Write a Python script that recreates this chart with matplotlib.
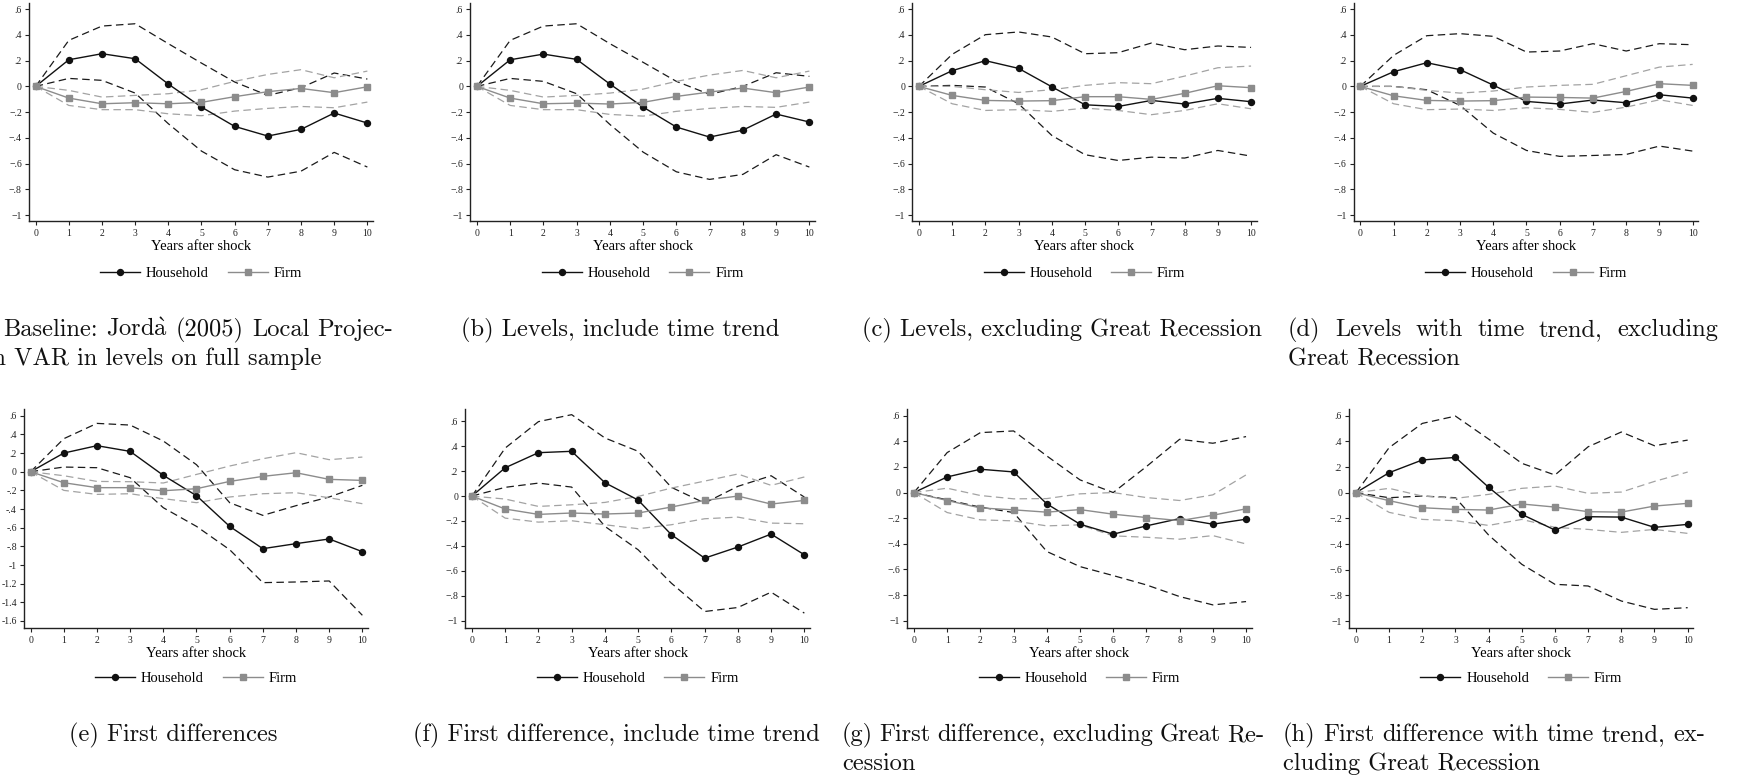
import matplotlib
matplotlib.use('Agg')
import matplotlib.pyplot as plt
from matplotlib.lines import Line2D
from matplotlib.transforms import IdentityTransform

plt.rcParams['mathtext.fontset'] = 'cm'

# ---------------- data ----------------
years = [0, 1, 2, 3, 4, 5, 6, 7, 8, 9, 10]
year_labels = ['0', '1', '2', '3', '4', '5', '6', '7', '8', '9', '10']
legend_labels = ['Household', 'Firm']
xlabel_text = 'Years after shock'

yticks_std = [0.6, 0.4, 0.2, 0.0, -0.2, -0.4, -0.6, -0.8, -1.0]
ylabels_std = ['.6', '.4', '.2', '0', '\u2212.2', '\u2212.4', '\u2212.6', '\u2212.8', '\u22121']
yticks_e = [0.6, 0.4, 0.2, 0.0, -0.2, -0.4, -0.6, -0.8, -1.0, -1.2, -1.4, -1.6]
ylabels_e = ['.6', '.4', '.2', '0', '-.2', '-.4', '-.6', '-.8', '-1', '-1.2', '-1.4', '-1.6']

# (a) Baseline
a_hh = [0, 0.207, 0.254, 0.215, 0.018, -0.161, -0.311, -0.386, -0.334, -0.207, -0.285]
a_hh_hi = [0, 0.358, 0.469, 0.487, 0.332, 0.181, 0.034, -0.070, -0.010, 0.104, 0.057]
a_hh_lo = [0, 0.062, 0.047, -0.052, -0.290, -0.503, -0.648, -0.705, -0.659, -0.513, -0.627]
a_firm = [0, -0.091, -0.135, -0.127, -0.135, -0.124, -0.080, -0.041, -0.016, -0.049, -0.003]
a_firm_hi = [0, -0.031, -0.083, -0.070, -0.057, -0.026, 0.039, 0.093, 0.130, 0.067, 0.119]
a_firm_lo = [0, -0.148, -0.181, -0.181, -0.213, -0.228, -0.192, -0.171, -0.156, -0.166, -0.122]

# (b) Levels, include time trend
b_hh = [0, 0.207, 0.251, 0.210, 0.018, -0.161, -0.316, -0.394, -0.340, -0.215, -0.277]
b_hh_hi = [0, 0.358, 0.469, 0.487, 0.332, 0.187, 0.039, -0.062, 0.000, 0.106, 0.078]
b_hh_lo = [0, 0.062, 0.039, -0.057, -0.296, -0.511, -0.664, -0.723, -0.684, -0.531, -0.627]
b_firm = [0, -0.091, -0.135, -0.130, -0.137, -0.124, -0.078, -0.044, -0.013, -0.049, -0.005]
b_firm_hi = [0, -0.031, -0.083, -0.070, -0.052, -0.021, 0.039, 0.088, 0.124, 0.067, 0.119]
b_firm_lo = [0, -0.148, -0.181, -0.181, -0.218, -0.231, -0.194, -0.171, -0.156, -0.163, -0.122]

# (c) Levels, excluding Great Recession
c_hh = [0, 0.122, 0.200, 0.140, -0.003, -0.143, -0.156, -0.109, -0.137, -0.093, -0.119]
c_hh_hi = [0, 0.249, 0.402, 0.423, 0.384, 0.254, 0.262, 0.337, 0.285, 0.314, 0.303]
c_hh_lo = [0, 0.008, -0.005, -0.135, -0.381, -0.531, -0.576, -0.550, -0.557, -0.498, -0.542]
c_firm = [0, -0.070, -0.109, -0.114, -0.111, -0.080, -0.080, -0.101, -0.054, 0.005, -0.010]
c_firm_hi = [0, 0.000, -0.026, -0.047, -0.026, 0.008, 0.029, 0.021, 0.080, 0.145, 0.158]
c_firm_lo = [0, -0.135, -0.187, -0.181, -0.194, -0.169, -0.187, -0.220, -0.187, -0.135, -0.174]

# (d) Levels with time trend, excluding Great Recession
d_hh = [0, 0.114, 0.184, 0.130, 0.010, -0.117, -0.137, -0.106, -0.127, -0.065, -0.091]
d_hh_hi = [0, 0.241, 0.394, 0.410, 0.389, 0.267, 0.275, 0.332, 0.275, 0.332, 0.324]
d_hh_lo = [0, 0.000, -0.026, -0.148, -0.363, -0.498, -0.544, -0.537, -0.529, -0.464, -0.503]
d_firm = [0, -0.073, -0.109, -0.114, -0.111, -0.083, -0.086, -0.091, -0.039, 0.021, 0.008]
d_firm_hi = [0, 0.000, -0.031, -0.052, -0.036, -0.005, 0.008, 0.016, 0.083, 0.150, 0.171]
d_firm_lo = [0, -0.135, -0.181, -0.176, -0.187, -0.166, -0.179, -0.202, -0.161, -0.104, -0.148]

# (e) First differences
e_hh = [0, 0.200, 0.279, 0.218, -0.039, -0.257, -0.586, -0.825, -0.771, -0.721, -0.857]
e_hh_hi = [0, 0.354, 0.518, 0.500, 0.329, 0.075, -0.332, -0.468, -0.364, -0.271, -0.146]
e_hh_lo = [0, 0.050, 0.043, -0.064, -0.386, -0.586, -0.836, -1.189, -1.182, -1.171, -1.539]
e_firm = [0, -0.118, -0.171, -0.171, -0.204, -0.182, -0.104, -0.050, -0.011, -0.082, -0.093]
e_firm_hi = [0, -0.043, -0.104, -0.107, -0.121, -0.029, 0.061, 0.139, 0.204, 0.129, 0.157]
e_firm_lo = [0, -0.200, -0.243, -0.236, -0.289, -0.332, -0.271, -0.236, -0.225, -0.279, -0.343]

# (f) First difference, include time trend
f_hh = [0, 0.227, 0.348, 0.359, 0.107, -0.032, -0.310, -0.498, -0.409, -0.305, -0.471]
f_hh_hi = [0, 0.385, 0.597, 0.653, 0.466, 0.359, 0.070, -0.056, 0.078, 0.163, -0.008]
f_hh_lo = [0, 0.070, 0.104, 0.072, -0.243, -0.431, -0.699, -0.926, -0.894, -0.771, -0.939]
f_firm = [0, -0.104, -0.147, -0.136, -0.144, -0.136, -0.088, -0.035, 0.000, -0.064, -0.035]
f_firm_hi = [0, -0.024, -0.083, -0.070, -0.051, -0.003, 0.064, 0.120, 0.177, 0.086, 0.153]
f_firm_lo = [0, -0.177, -0.209, -0.198, -0.230, -0.262, -0.230, -0.182, -0.169, -0.217, -0.222]

# (g) First difference, excluding Great Recession
g_hh = [0, 0.122, 0.182, 0.161, -0.088, -0.247, -0.325, -0.260, -0.203, -0.247, -0.208]
g_hh_hi = [0, 0.312, 0.468, 0.481, 0.286, 0.099, 0.000, 0.203, 0.416, 0.385, 0.437]
g_hh_lo = [0, -0.057, -0.114, -0.156, -0.460, -0.578, -0.648, -0.721, -0.812, -0.877, -0.851]
g_firm = [0, -0.062, -0.120, -0.135, -0.153, -0.133, -0.169, -0.195, -0.219, -0.177, -0.127]
g_firm_hi = [0, 0.034, -0.023, -0.049, -0.047, -0.010, 0.000, -0.039, -0.062, -0.018, 0.138]
g_firm_lo = [0, -0.156, -0.213, -0.221, -0.260, -0.252, -0.338, -0.349, -0.364, -0.336, -0.401]

# (h) First difference with time trend, excluding Great Recession
h_hh = [0, 0.156, 0.255, 0.275, 0.042, -0.169, -0.291, -0.187, -0.190, -0.270, -0.247]
h_hh_hi = [0, 0.351, 0.540, 0.597, 0.418, 0.229, 0.138, 0.358, 0.473, 0.366, 0.410]
h_hh_lo = [0, -0.039, -0.026, -0.039, -0.330, -0.558, -0.714, -0.727, -0.844, -0.909, -0.896]
h_firm = [0, -0.062, -0.117, -0.130, -0.135, -0.088, -0.112, -0.148, -0.151, -0.104, -0.083]
h_firm_hi = [0, 0.034, -0.026, -0.044, -0.013, 0.034, 0.052, -0.005, 0.005, 0.088, 0.161]
h_firm_lo = [0, -0.153, -0.208, -0.218, -0.255, -0.208, -0.270, -0.286, -0.309, -0.286, -0.317]

# ---------------- layout ----------------
W, H = 1743, 781
fig = plt.figure(figsize=(W / 100, H / 100), dpi=100)

TICKFONT = 'Liberation Serif'
CAPFONT = ['cmr10', 'DejaVu Serif']
CAPSIZE = 17.6

HH_COL = '#111111'
FIRM_COL = '#8c8c8c'
HH_CI = '#1a1a1a'
FIRM_CI = '#a3a3a3'
DASH = (0, (6, 3.5))

TOP_AX, BOT_AX = 220.7, 627.7

panels = [
    # (left, right, top, bottom), ylim, yticks, ylabels, series
    ((29, 373, 2.9, TOP_AX), (-1.044, 0.649), yticks_std, ylabels_std,
     (a_hh, a_hh_hi, a_hh_lo, a_firm, a_firm_hi, a_firm_lo)),
    ((470.3, 815, 2.9, TOP_AX), (-1.044, 0.649), yticks_std, ylabels_std,
     (b_hh, b_hh_hi, b_hh_lo, b_firm, b_firm_hi, b_firm_lo)),
    ((912.3, 1256.7, 2.9, TOP_AX), (-1.044, 0.649), yticks_std, ylabels_std,
     (c_hh, c_hh_hi, c_hh_lo, c_firm, c_firm_hi, c_firm_lo)),
    ((1353.7, 1698.3, 2.9, TOP_AX), (-1.044, 0.649), yticks_std, ylabels_std,
     (d_hh, d_hh_hi, d_hh_lo, d_firm, d_firm_hi, d_firm_lo)),
    ((24, 368, 409.3, BOT_AX), (-1.672, 0.669), yticks_e, ylabels_e,
     (e_hh, e_hh_hi, e_hh_lo, e_firm, e_firm_hi, e_firm_lo)),
    ((465.3, 810, 409.3, BOT_AX), (-1.056, 0.696), yticks_std, ylabels_std,
     (f_hh, f_hh_hi, f_hh_lo, f_firm, f_firm_hi, f_firm_lo)),
    ((907.3, 1251.7, 409.3, BOT_AX), (-1.055, 0.650), yticks_std, ylabels_std,
     (g_hh, g_hh_hi, g_hh_lo, g_firm, g_firm_hi, g_firm_lo)),
    ((1349.3, 1693.3, 409.3, BOT_AX), (-1.052, 0.650), yticks_std, ylabels_std,
     (h_hh, h_hh_hi, h_hh_lo, h_firm, h_firm_hi, h_firm_lo)),
]

for (l, r, t, b), ylim, yt, yl, ser in panels:
    ax = fig.add_axes([l / W, 1 - b / H, (r - l) / W, (b - t) / H])
    hh, hh_hi, hh_lo, fm, fm_hi, fm_lo = ser
    ax.plot(years, hh_hi, color=HH_CI, lw=0.9, ls=DASH)
    ax.plot(years, hh_lo, color=HH_CI, lw=0.9, ls=DASH)
    ax.plot(years, fm_hi, color=FIRM_CI, lw=0.9, ls=DASH)
    ax.plot(years, fm_lo, color=FIRM_CI, lw=0.9, ls=DASH)
    ax.plot(years, hh, color=HH_COL, lw=1.0, marker='o', ms=4.3,
            mfc=HH_COL, mec=HH_COL)
    ax.plot(years, fm, color=FIRM_COL, lw=1.0, marker='s', ms=4.3,
            mfc=FIRM_COL, mec=FIRM_COL)
    ax.set_xlim(-0.2, 10.17)
    ax.set_ylim(*ylim)
    ax.set_xticks(years)
    ax.set_xticklabels(year_labels, fontfamily=TICKFONT, fontsize=7)
    ax.set_yticks(yt)
    ax.set_yticklabels(yl, fontfamily=TICKFONT, fontsize=7)
    ax.tick_params(axis='both', length=3.2, width=0.8, colors='#222222')
    ax.tick_params(axis='x', pad=2.8)
    ax.tick_params(axis='y', pad=2)
    for s in ('top', 'right'):
        ax.spines[s].set_visible(False)
    for s in ('left', 'bottom'):
        ax.spines[s].set_linewidth(1.0)
        ax.spines[s].set_color('#222222')
    hgt = b - t
    top_row = t < 100
    xl_y = (TOP_AX - 246.5) / hgt if top_row else (BOT_AX - 653.5) / hgt
    ax.text(0.5, xl_y, xlabel_text, transform=ax.transAxes, ha='center',
            va='center', fontfamily=TICKFONT, fontsize=10.5)
    handles = [Line2D([], [], color=HH_COL, lw=1.0, marker='o', ms=4.3),
               Line2D([], [], color=FIRM_COL, lw=1.0, marker='s', ms=4.3)]
    ly = (TOP_AX - 273.5) / hgt if top_row else (BOT_AX - 678.5) / hgt
    ax.legend(handles, legend_labels, loc='center', bbox_to_anchor=(0.5, ly),
              ncol=2, frameon=False, handlelength=2.74, handletextpad=0.4,
              columnspacing=1.3, borderaxespad=0, borderpad=0,
              prop={'family': TICKFONT, 'size': 10.5})

# ---------------- captions ----------------
renderer = fig.canvas.get_renderer()


def put(text, x, ybase, ha='left'):
    return fig.text(x, H - ybase, text, transform=IdentityTransform(),
                    ha=ha, va='baseline', family=CAPFONT, fontsize=CAPSIZE,
                    color='#111111')


def justified(text, x0, x1, ybase):
    words = text.split(' ')
    objs = [put(w, 0, ybase) for w in words]
    widths = [o.get_window_extent(renderer).width for o in objs]
    gap = (x1 - x0 - sum(widths)) / (len(words) - 1)
    x = x0
    for o, w in zip(objs, widths):
        o.set_x(x)
        x += w + gap


TOP1, TOP2 = 336, 365
BOT1, BOT2 = 741, 770

justified('(a) Baseline: Jord$\\grave{\\mathrm{a}}$ (2005) Local Projec-', -36, 393, TOP1)
put('tion VAR in levels on full sample', -36, TOP2)
put('(b) Levels, include time trend', 620, TOP1, ha='center')
put('(c) Levels, excluding Great Recession', 1062, TOP1, ha='center')
justified('(d) Levels with time trend, excluding', 1288, 1718, TOP1)
put('Great Recession', 1288, TOP2)

put('(e) First differences', 173, BOT1, ha='center')
put('(f) First difference, include time trend', 616, BOT1, ha='center')
justified('(g) First difference, excluding Great Re-', 842, 1264, BOT1)
put('cession', 842, BOT2)
justified('(h) First difference with time trend, ex-', 1283, 1705, BOT1)
put('cluding Great Recession', 1283, BOT2)

fig.savefig('out.png', dpi=100)
